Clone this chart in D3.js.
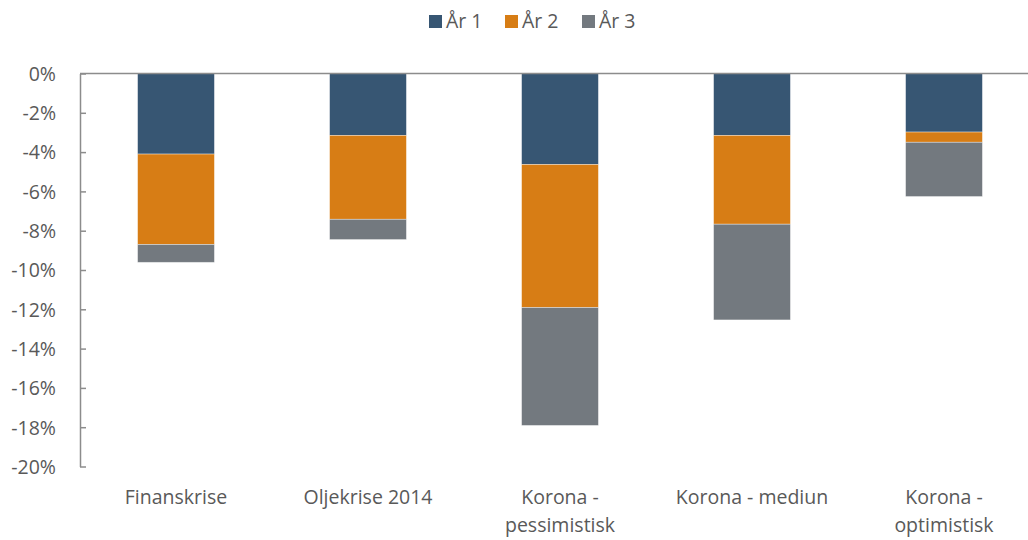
<!DOCTYPE html>
<html lang="no">
<head>
<meta charset="utf-8">
<title>Scenarier</title>
<script src="https://cdn.jsdelivr.net/npm/d3@7"></script>
<style>
  body { margin: 0; background: #fff; }
  svg text { font-family: "Open Sans", Lato, sans-serif; fill: #595959; }
</style>
</head>
<body>
<svg id="chart" width="1028" height="540"></svg>
<script>
// data (percent change)
var categories = ["Finanskrise", "Oljekrise 2014", "Korona - pessimistisk", "Korona - mediun", "Korona - optimistisk"];
var labelLines = [["Finanskrise"], ["Oljekrise 2014"], ["Korona -", "pessimistisk"], ["Korona - mediun"], ["Korona -", "optimistisk"]];
var series = ["År 1", "År 2", "År 3"];
var ar1 = [-4.1, -3.15, -4.63, -3.15, -2.98];
var ar2 = [-4.6, -4.27, -7.28, -4.52, -0.52];
var ar3 = [-0.91, -1.03, -6.0, -4.87, -2.76];
var colors = ["#375673", "#D77D15", "#73797F"];
var yTicks = [0, -2, -4, -6, -8, -10, -12, -14, -16, -18, -20];

var svg = d3.select("#chart");

var x = d3.scaleBand().domain(categories).range([80, 1040]).paddingInner(0.6).paddingOuter(0.3);
var y = d3.scaleLinear().domain([0, -20]).range([73.5, 466.5]);

var rows = categories.map(function(c, i) {
  return { cat: c, "År 1": ar1[i], "År 2": ar2[i], "År 3": ar3[i] };
});
var stacked = d3.stack().keys(series).offset(d3.stackOffsetDiverging)(rows);

// y axis
var yAxis = d3.axisLeft(y).tickValues(yTicks).tickSize(0).tickPadding(24)
  .tickFormat(function(d) { return d + "%"; });
var gy = svg.append("g").attr("transform", "translate(80,0)").call(yAxis);
gy.attr("font-family", null).attr("font-size", null);
gy.select(".domain").attr("stroke", "#8c8c8c").attr("stroke-width", 1.5);
gy.selectAll("text").style("font-size", "19.5px").attr("dy", "0.35em");
gy.selectAll(".tick").append("line")
  .attr("x1", 0).attr("x2", 6).attr("stroke", "#8c8c8c").attr("stroke-width", 1.5);

// bars
svg.append("g").selectAll("g").data(stacked).enter().append("g")
  .attr("fill", function(d, i) { return colors[i]; })
  .selectAll("rect").data(function(d) { return d; }).enter().append("rect")
  .attr("x", function(d) { return x(d.data.cat); })
  .attr("width", x.bandwidth())
  .attr("y", function(d) { return y(d[1]); })
  .attr("height", function(d) { return y(d[0]) - y(d[1]); })
  .attr("stroke", "#ffffff").attr("stroke-opacity", 0.45).attr("stroke-width", 0.8);

// zero line
svg.append("line").attr("x1", 80).attr("x2", 1028).attr("y1", y(0)).attr("y2", y(0))
  .attr("stroke", "#8c8c8c").attr("stroke-width", 1.5);

// category labels
var xl = svg.append("g").selectAll("text").data(categories).enter().append("text")
  .attr("text-anchor", "middle")
  .style("font-size", "19.5px")
  .attr("transform", function(d) { return "translate(" + (x(d) + x.bandwidth() / 2) + ",504)"; });
xl.each(function(d, i) {
  var t = d3.select(this);
  labelLines[i].forEach(function(line, j) {
    t.append("tspan").attr("x", 0).attr("y", j * 28).text(line);
  });
});

// legend
var legendX = [429, 505, 582];
var lg = svg.append("g").selectAll("g").data(series).enter().append("g")
  .attr("transform", function(d, i) { return "translate(" + legendX[i] + ",15)"; });
lg.append("rect").attr("width", 13).attr("height", 13)
  .attr("fill", function(d, i) { return colors[i]; });
lg.append("text").attr("x", 17).attr("y", 13).style("font-size", "19.5px").text(function(d) { return d; });
</script>
</body>
</html>
